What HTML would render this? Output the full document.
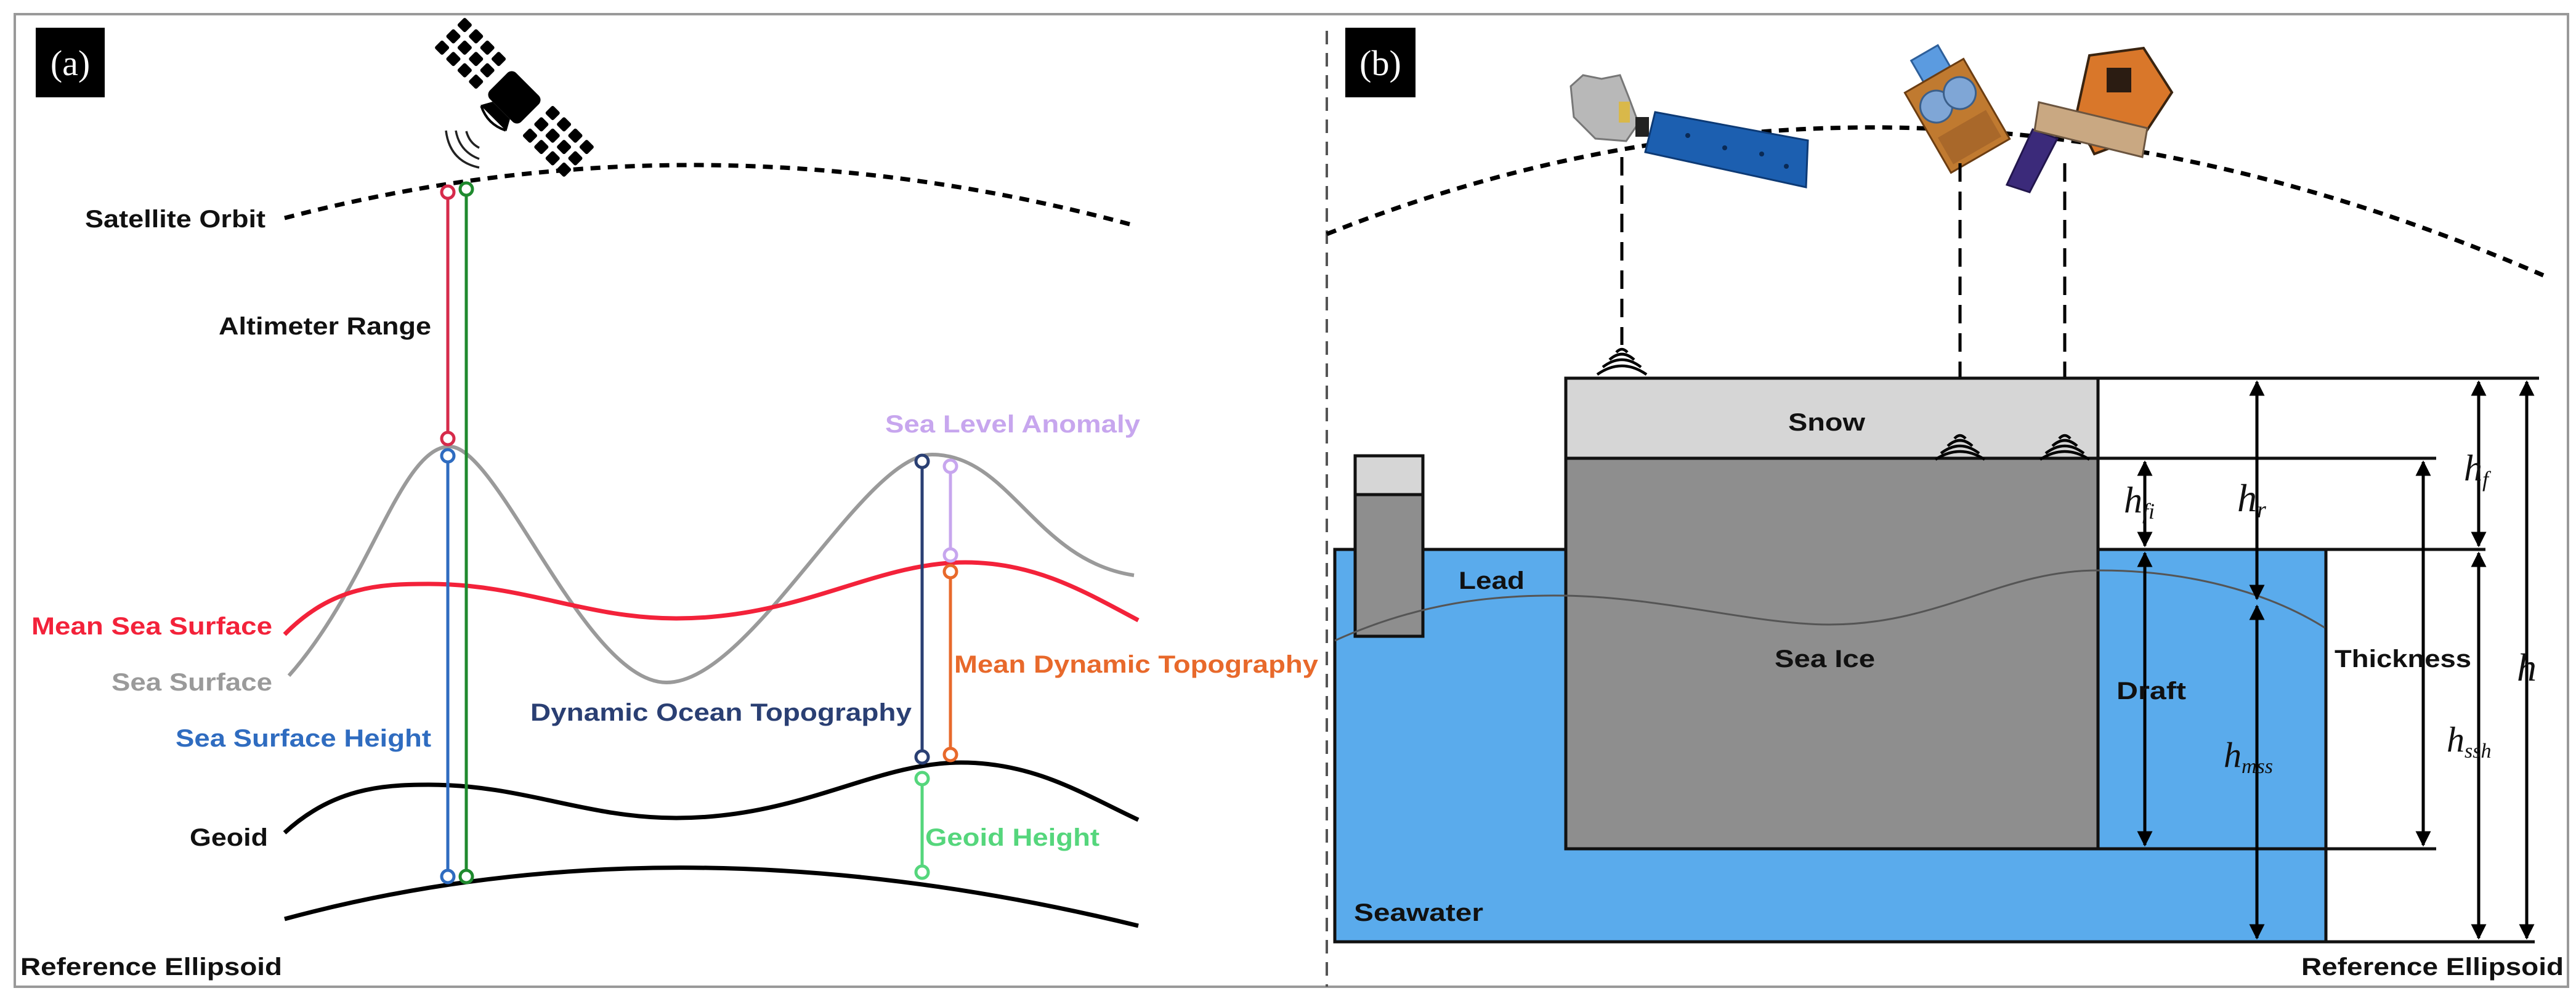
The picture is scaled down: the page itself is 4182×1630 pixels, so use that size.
<!DOCTYPE html>
<html><head><meta charset="utf-8"><style>
html,body{margin:0;padding:0;background:#fff}
svg{display:block}
text{font-family:"Liberation Sans",sans-serif;font-weight:bold}
.m{font-family:"Liberation Serif",serif;font-style:italic;font-weight:normal}
</style></head><body>
<svg width="4182" height="1630" viewBox="0 0 4182 1630" xmlns="http://www.w3.org/2000/svg">
<defs>
<marker id="ah" viewBox="0 0 10 10" refX="9" refY="5" markerWidth="5" markerHeight="5" orient="auto-start-reverse"><path d="M0,0 L10,5 L0,10 z" fill="#000"/></marker>
<g id="cell"><rect x="-9" y="-9" width="18" height="18" rx="3"/></g>
</defs>
<rect x="0" y="0" width="4182" height="1630" fill="#fff"/>
<rect x="24" y="23" width="4145" height="1579" fill="none" stroke="#999" stroke-width="4"/>
<line x1="2154" y1="50" x2="2154" y2="1602" stroke="#555" stroke-width="4" stroke-dasharray="22 14"/>

<!-- Panel a -->
<rect x="58" y="45" width="112" height="113" fill="#000"/>
<text x="114" y="122" fill="#fff" font-size="58" text-anchor="middle" style="font-family:'Liberation Serif',serif;font-weight:normal">(a)</text>

<!-- satellite icon -->
<g transform="translate(835,158) rotate(-45)" fill="#000">
 <rect x="-30" y="-36" width="60" height="72" rx="10"/>
 <use href="#cell" x="-26" y="-140"/><use href="#cell" x="0" y="-140"/><use href="#cell" x="26" y="-140"/>
 <use href="#cell" x="-26" y="-114"/><use href="#cell" x="0" y="-114"/><use href="#cell" x="26" y="-114"/>
 <use href="#cell" x="-26" y="-88"/><use href="#cell" x="0" y="-88"/><use href="#cell" x="26" y="-88"/>
 <use href="#cell" x="-26" y="-62"/><use href="#cell" x="0" y="-62"/><use href="#cell" x="26" y="-62"/>
 <use href="#cell" x="-26" y="62"/><use href="#cell" x="0" y="62"/><use href="#cell" x="26" y="62"/>
 <use href="#cell" x="-26" y="88"/><use href="#cell" x="0" y="88"/><use href="#cell" x="26" y="88"/>
 <use href="#cell" x="-26" y="114"/><use href="#cell" x="0" y="114"/><use href="#cell" x="26" y="114"/>
 <use href="#cell" x="-26" y="140"/><use href="#cell" x="0" y="140"/><use href="#cell" x="26" y="140"/>
 <path d="M-30,-20 L-48,-30 L-48,30 L-30,20 Z"/>
 <path d="M-48,-28 Q-62,0 -48,28" fill="none" stroke="#000" stroke-width="4"/>
</g>
<g fill="none" stroke="#222" stroke-width="3.5">
 <path d="M757,213 Q762,232 778,240"/><path d="M740,212 Q746,246 778,258"/><path d="M724,212 Q730,262 778,272"/>
</g>

<path d="M462,354 Q1138,177 1834,364" fill="none" stroke="#000" stroke-width="7" stroke-dasharray="16 12"/>

<!-- curves -->
<path d="M469,1097 C600,950 650,725 730,725 C810,725 950,1108 1082,1108 C1220,1108 1400,738 1513,738 C1640,738 1680,910 1841,934" fill="none" stroke="#9a9a9a" stroke-width="6"/>
<path d="M462,1030 C540,950 620,948 696,948 C850,948 950,1004 1098,1004 C1300,1004 1420,913 1567,913 C1680,913 1760,960 1848,1007" fill="none" stroke="#f3223a" stroke-width="7"/>
<path d="M462,1352 C540,1280 620,1274 696,1274 C850,1274 950,1328 1098,1328 C1300,1328 1420,1238 1560,1238 C1680,1238 1760,1290 1848,1331" fill="none" stroke="#000" stroke-width="7"/>
<path d="M462,1492 Q1098,1320 1848,1503" fill="none" stroke="#000" stroke-width="7"/>

<!-- vertical measurement lines -->
<g stroke-width="5" fill="#fff">
 <line x1="727" y1="320" x2="727" y2="704" stroke="#d62b4b"/>
 <circle cx="727" cy="312" r="10" stroke="#d62b4b"/><circle cx="727" cy="712" r="10" stroke="#d62b4b"/>
 <line x1="757" y1="315" x2="757" y2="1415" stroke="#1f8a2e"/>
 <circle cx="757" cy="307" r="10" stroke="#1f8a2e"/><circle cx="757" cy="1423" r="10" stroke="#1f8a2e"/>
 <line x1="727" y1="748" x2="727" y2="1415" stroke="#2f6cc0"/>
 <circle cx="727" cy="740" r="10" stroke="#2f6cc0"/><circle cx="727" cy="1423" r="10" stroke="#2f6cc0"/>
 <line x1="1497" y1="757" x2="1497" y2="1221" stroke="#2a3f73"/>
 <circle cx="1497" cy="749" r="10" stroke="#2a3f73"/><circle cx="1497" cy="1229" r="10" stroke="#2a3f73"/>
 <line x1="1543" y1="765" x2="1543" y2="893" stroke="#c7a6ee"/>
 <circle cx="1543" cy="757" r="10" stroke="#c7a6ee"/><circle cx="1543" cy="901" r="10" stroke="#c7a6ee"/>
 <line x1="1543" y1="936" x2="1543" y2="1217" stroke="#e8692b"/>
 <circle cx="1543" cy="928" r="10" stroke="#e8692b"/><circle cx="1543" cy="1225" r="10" stroke="#e8692b"/>
 <line x1="1497" y1="1272" x2="1497" y2="1408" stroke="#55d67c"/>
 <circle cx="1497" cy="1264" r="10" stroke="#55d67c"/><circle cx="1497" cy="1416" r="10" stroke="#55d67c"/>
</g>

<g font-size="40">
 <text x="138" y="369" textLength="293" lengthAdjust="spacingAndGlyphs" fill="#111">Satellite Orbit</text>
 <text x="355" y="543" textLength="345" lengthAdjust="spacingAndGlyphs" fill="#111">Altimeter Range</text>
 <text x="1437" y="702" textLength="414" lengthAdjust="spacingAndGlyphs" fill="#c7a6ee">Sea Level Anomaly</text>
 <text x="51" y="1030" textLength="391" lengthAdjust="spacingAndGlyphs" fill="#f3223a">Mean Sea Surface</text>
 <text x="181" y="1121" textLength="261" lengthAdjust="spacingAndGlyphs" fill="#9a9a9a">Sea Surface</text>
 <text x="1549" y="1092" textLength="591" lengthAdjust="spacingAndGlyphs" fill="#e8692b">Mean Dynamic Topography</text>
 <text x="861" y="1170" textLength="619" lengthAdjust="spacingAndGlyphs" fill="#2a3f73">Dynamic Ocean Topography</text>
 <text x="285" y="1212" textLength="415" lengthAdjust="spacingAndGlyphs" fill="#2f6cc0">Sea Surface Height</text>
 <text x="308" y="1373" textLength="127" lengthAdjust="spacingAndGlyphs" fill="#111">Geoid</text>
 <text x="1502" y="1373" textLength="283" lengthAdjust="spacingAndGlyphs" fill="#55d67c">Geoid Height</text>
 <text x="33" y="1583" textLength="425" lengthAdjust="spacingAndGlyphs" fill="#111">Reference Ellipsoid</text>
</g>

<!-- Panel b -->
<rect x="2184" y="45" width="114" height="113" fill="#000"/>
<text x="2241" y="122" fill="#fff" font-size="58" text-anchor="middle" style="font-family:'Liberation Serif',serif;font-weight:normal">(b)</text>

<path d="M2154,380 Q3100,3 4129,447" fill="none" stroke="#000" stroke-width="7" stroke-dasharray="16 12"/>

<!-- satellites b -->
<g>
 <path d="M2550,140 L2570,122 L2600,128 L2630,122 L2645,160 L2660,200 L2640,229 L2590,225 L2555,190 Z" fill="#b8b8b8" stroke="#777" stroke-width="3"/>
 <rect x="2628" y="165" width="18" height="34" fill="#d9b84a"/>
 <rect x="2655" y="190" width="22" height="32" fill="#222"/>
 <polygon points="2687,182 2935,228 2932,304 2671,247" fill="#1c5fb0" stroke="#0d3a75" stroke-width="3"/>
 <g fill="#0a2a55"><circle cx="2740" cy="220" r="4"/><circle cx="2800" cy="240" r="4"/><circle cx="2860" cy="250" r="4"/><circle cx="2900" cy="270" r="4"/></g>
</g>
<g transform="translate(3170,175) rotate(-30)">
 <rect x="-20" y="-100" width="50" height="40" fill="#5b9be0" stroke="#2d5f9a" stroke-width="3"/>
 <rect x="-55" y="-60" width="110" height="150" fill="#c07a30" stroke="#6b3d12" stroke-width="3"/>
 <circle cx="-22" cy="-15" r="26" fill="#7fa6d6" stroke="#3b5f8a" stroke-width="3"/>
 <circle cx="22" cy="-15" r="26" fill="#7fa6d6" stroke="#3b5f8a" stroke-width="3"/>
 <rect x="-45" y="30" width="90" height="50" fill="#a9682a"/>
</g>
<g>
 <polygon points="3300,210 3340,225 3295,312 3258,300" fill="#3b2a7a" stroke="#22164d" stroke-width="3"/>
 <polygon points="3392,90 3480,78 3526,150 3480,220 3400,250 3370,190" fill="#d9772a" stroke="#3a2410" stroke-width="4"/>
 <rect x="3420" y="110" width="40" height="40" fill="#2b1c12"/>
 <polygon points="3310,166 3486,208 3478,255 3303,212" fill="#c9a882" stroke="#6b5540" stroke-width="3"/>
</g>

<!-- dashed beams -->
<g stroke="#000" stroke-width="5" stroke-dasharray="30 16">
 <line x1="2633" y1="255" x2="2633" y2="560"/>
 <line x1="3182" y1="265" x2="3182" y2="700"/>
 <line x1="3352" y1="265" x2="3352" y2="710"/>
</g>

<!-- water & ice -->
<rect x="2167" y="892" width="1609" height="637" fill="#5aabec" stroke="#111" stroke-width="5"/>
<rect x="2542" y="744" width="864" height="634" fill="#8e8e8e" stroke="#111" stroke-width="5"/>
<rect x="2542" y="614" width="864" height="130" fill="#d6d6d6" stroke="#111" stroke-width="5"/>
<rect x="2200" y="740" width="110" height="293" fill="#8e8e8e" stroke="#111" stroke-width="5"/>
<rect x="2200" y="740" width="110" height="63" fill="#d6d6d6" stroke="#111" stroke-width="5"/>
<path d="M2167,1040 C2300,980 2420,965 2542,967 C2700,970 2850,1014 2970,1014 C3150,1014 3250,926 3406,926 C3550,926 3680,960 3774,1019" fill="none" stroke="#555" stroke-width="3"/>

<!-- signal arcs (dome shapes) -->
<g fill="none" stroke="#000" stroke-width="4.5">
 <path d="M2624,572 Q2633,562 2642,572"/><path d="M2613,584 Q2633,566 2653,584"/><path d="M2602,596 Q2633,572 2664,596"/><path d="M2593,608 Q2633,580 2673,608"/>
 <path d="M3173,712 Q3182,702 3191,712"/><path d="M3162,724 Q3182,706 3202,724"/><path d="M3151,736 Q3182,712 3213,736"/><path d="M3142,746 Q3182,720 3222,746"/>
 <path d="M3343,712 Q3352,702 3361,712"/><path d="M3332,724 Q3352,706 3372,724"/><path d="M3321,736 Q3352,712 3383,736"/><path d="M3312,746 Q3352,720 3392,746"/>
</g>

<!-- horizontal lines -->
<g stroke="#111" stroke-width="5">
 <line x1="3406" y1="614" x2="4122" y2="614"/>
 <line x1="3406" y1="744" x2="3955" y2="744"/>
 <line x1="3406" y1="892" x2="4035" y2="892"/>
 <line x1="3406" y1="1378" x2="3955" y2="1378"/>
 <line x1="3776" y1="1529" x2="4115" y2="1529"/>
</g>

<!-- arrows -->
<g stroke="#000" stroke-width="5" marker-start="url(#ah)" marker-end="url(#ah)">
 <line x1="3482" y1="750" x2="3482" y2="886"/>
 <line x1="3482" y1="898" x2="3482" y2="1372"/>
 <line x1="3664" y1="620" x2="3664" y2="972"/>
 <line x1="3664" y1="984" x2="3664" y2="1523"/>
 <line x1="3934" y1="750" x2="3934" y2="1372"/>
 <line x1="4024" y1="620" x2="4024" y2="886"/>
 <line x1="4024" y1="898" x2="4024" y2="1523"/>
 <line x1="4102" y1="620" x2="4102" y2="1523"/>
</g>

<g font-size="40" fill="#111">
 <text x="2903" y="699" textLength="125" lengthAdjust="spacingAndGlyphs">Snow</text>
 <text x="2368" y="956" textLength="107" lengthAdjust="spacingAndGlyphs">Lead</text>
 <text x="2881" y="1083" textLength="163" lengthAdjust="spacingAndGlyphs">Sea Ice</text>
 <text x="3436" y="1135" textLength="113" lengthAdjust="spacingAndGlyphs">Draft</text>
 <text x="3790" y="1083" textLength="222" lengthAdjust="spacingAndGlyphs">Thickness</text>
 <text x="2198" y="1495" textLength="210" lengthAdjust="spacingAndGlyphs">Seawater</text>
 <text x="3736" y="1583" textLength="426" lengthAdjust="spacingAndGlyphs">Reference Ellipsoid</text>
</g>
<g fill="#111">
 <text class="m" x="3448" y="832" font-size="60">h<tspan font-size="36" dy="10">fi</tspan></text>
 <text class="m" x="3632" y="830" font-size="64">h<tspan font-size="38" dy="10">r</tspan></text>
 <text class="m" x="4000" y="780" font-size="60">h<tspan font-size="36" dy="10">f</tspan></text>
 <text class="m" x="4086" y="1105" font-size="64">h</text>
 <text class="m" x="3610" y="1245" font-size="58">h<tspan font-size="34" dy="10">mss</tspan></text>
 <text class="m" x="3972" y="1220" font-size="58">h<tspan font-size="34" dy="10">ssh</tspan></text>
</g>
</svg>
</body></html>
